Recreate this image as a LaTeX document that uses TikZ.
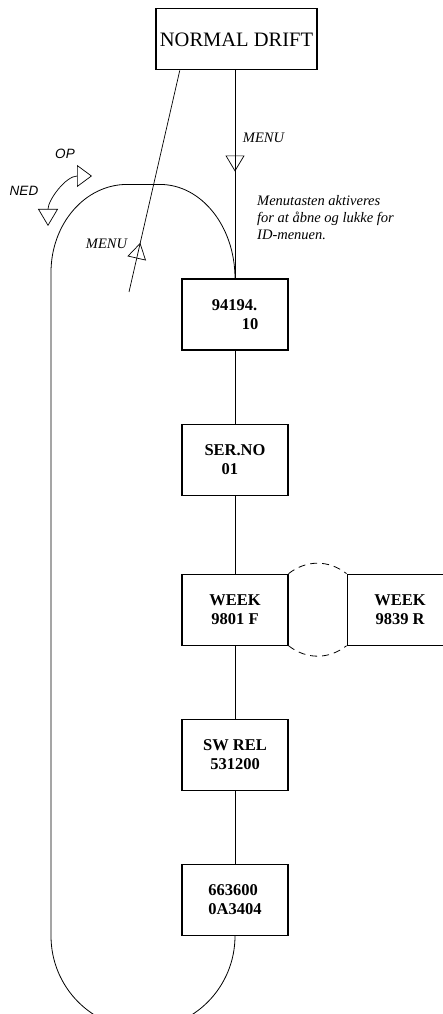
\documentclass[tikz,border=0pt]{standalone}
\usepackage{fontspec}
\setmainfont{Liberation Serif}
\newfontfamily\keyfont{Liberation Sans}
\usepackage{tikz}
\usetikzlibrary{arrows.meta,positioning,decorations.markings,calc}
\tikzset{
    box/.style={
        draw,
        line width=1.1pt,
        align=left,
        minimum height=71pt,
        minimum width=106pt,
        inner sep=0pt,
        fill=white,
        font=\fontsize{16.5}{19}\selectfont\bfseries
    },
    topbox/.style={
        draw,
        line width=1.1pt,
        minimum height=61pt,
        minimum width=161pt,
        inner sep=0pt,
        font=\fontsize{20.5}{24}\selectfont
    },
    link/.style={line width=0.8pt},
    menuflow/.style={
        line width=0.7pt,
        postaction={decorate},
        decoration={markings,
            mark=at position #1 with {\arrow{Triangle[open,length=16pt,width=19pt]}}}
    },
    lbl/.style={font=\fontsize{14.5}{17}\selectfont\itshape, inner sep=0pt},
    keylbl/.style={font=\keyfont\fontsize{13.5}{16}\selectfont\itshape, inner sep=0pt},
    updown/.style={
        {Triangle[open,length=17pt,width=20pt]}-{Triangle[open,length=15pt,width=22pt]},
        line width=0.7pt
    }
}

\begin{document}
\begin{tikzpicture}[x=1pt, y=1pt, node distance=73pt]
    \useasboundingbox (0,0) rectangle (442,1014);
    \node[box] (id) at (235,699.5) {94194.\\\hspace*{30pt}10};
    \node[topbox, above=208pt of id, xshift=1.5pt] (drift) {NORMAL DRIFT};
    \node[box, below=of id] (serno) {SER.NO\\\hspace*{17pt}01};
    \node[box, below=78pt of serno, align=center] (weekf) {WEEK\\9801 F};
    \node[box, right=58pt of weekf, align=center] (weekr) {WEEK\\9839 R};
    \node[box, below=of weekf, align=center] (swrel) {SW REL\\531200};
    \node[box, below=of swrel] (hwrel) {663600\\0A3404};

    \draw[link] (id) -- (serno);
    \draw[link] (serno) -- (weekf);
    \draw[link] (weekf) -- (swrel);
    \draw[link] (swrel) -- (hwrel);
    \draw[link, dash pattern=on 7pt off 5pt] (weekf.north east) to[bend left=38] (weekr.north west);
    \draw[link, dash pattern=on 7pt off 5pt] (weekf.south east) to[bend right=38] (weekr.south west);

    % loop round the menu
    \draw[link] (id.north) arc[start angle=0, end angle=90, x radius=75, y radius=94]
        -- ++(-33,0) arc[start angle=90, end angle=180, x radius=76, y radius=88]
        -- ($(hwrel.south)+(-184,0)$) arc[start angle=180, end angle=360, x radius=92, y radius=93];

    % menu key in and out
    \draw[menuflow=0.486] (drift.south -| id.north) -- (id.north);
    \coordinate (menuend) at (129,722);
    \draw[menuflow=0.222] (menuend) -- ($(drift.south west)!0.15!(drift.south east)$);
    \node[lbl] (menur) at (263.5,876) {MENU};
    \node[lbl] (menul) at (106.5,770.5) {MENU};
    \node[lbl, anchor=north west, align=left] (hint) at (257,819)
        {Menutasten aktiveres\\for at åbne og lukke for\\ID-menuen.};

    % up / down keys
    \node[keylbl] (op) at (65,860) {OP};
    \node[keylbl] (ned) at (24,823) {NED};
    \coordinate (nedtip) at (48,788);
    \coordinate (optip) at (92,838);
    \draw[updown] (nedtip) to[out=90, in=180] (optip);
\end{tikzpicture}
\end{document}
